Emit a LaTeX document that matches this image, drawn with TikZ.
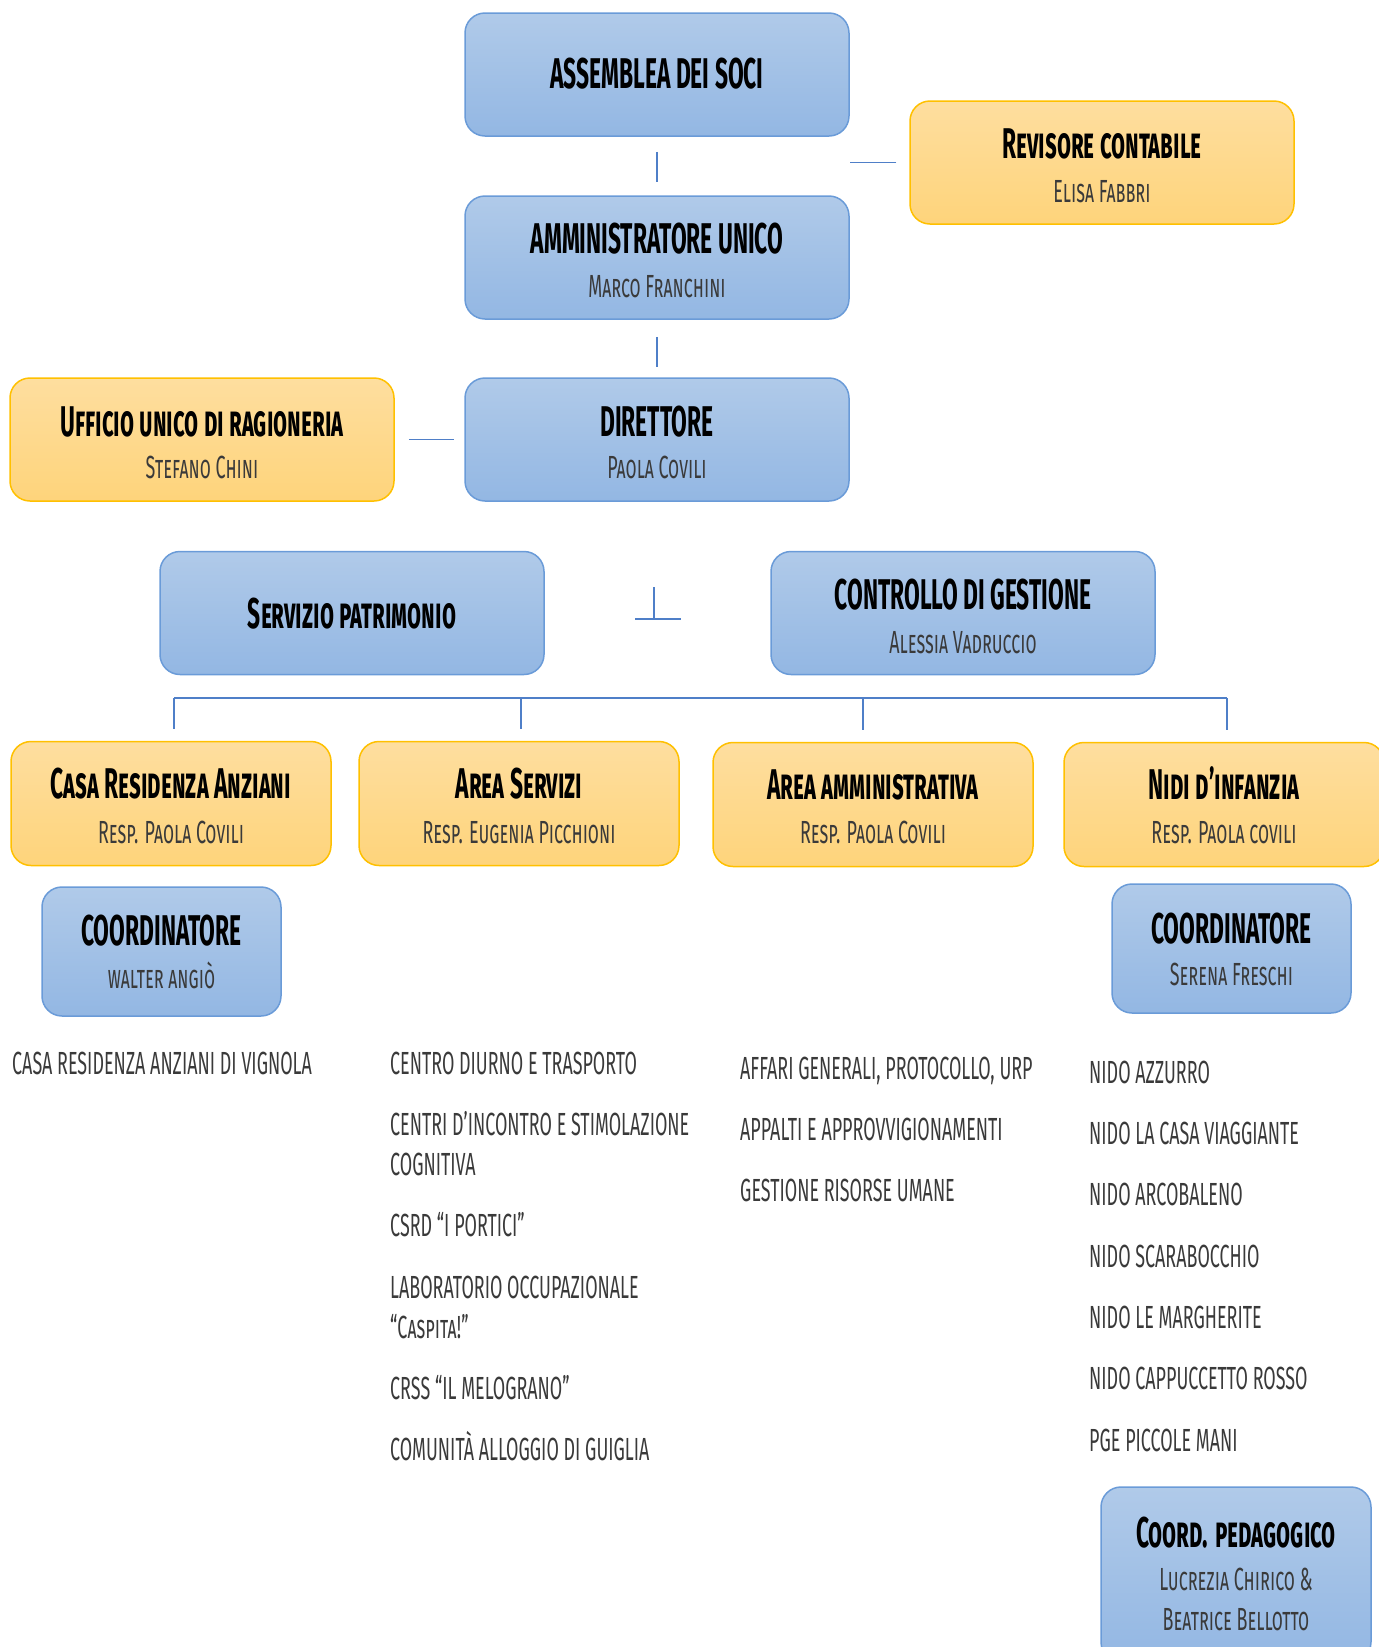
\documentclass[tikz,border=0pt]{standalone}
\usepackage{fontspec}
\newfontfamily\amfont[FakeStretch=0.53]{Fira Sans}
\newfontfamily\amsubfont[FakeStretch=0.56]{Fira Sans}
\definecolor{blueT}{HTML}{B0CAE9}
\definecolor{blueB}{HTML}{93B7E3}
\definecolor{blueBd}{HTML}{6A9BD8}
\definecolor{orT}{HTML}{FEDE9F}
\definecolor{orB}{HTML}{FED47B}
\definecolor{orBd}{HTML}{FFC000}
\definecolor{connblue}{HTML}{4F7FC8}
\definecolor{subgray}{HTML}{3A3A3A}
\tikzset{
  bluebox/.style={draw=blueBd, line width=1.5pt, rounded corners=20pt, top color=blueT, bottom color=blueB, inner sep=0pt, minimum width=384pt, minimum height=123pt},
  orbox/.style={draw=orBd, line width=1.5pt, rounded corners=20pt, top color=orT, bottom color=orB, inner sep=0pt, minimum width=384pt, minimum height=123pt},
  lowbox/.style={minimum width=320pt, minimum height=124pt},
  coordbox/.style={minimum width=239pt, minimum height=129pt},
  ttl/.style={font=\amfont\bfseries\scshape\fontsize{43}{43}\selectfont, text=black, inner sep=0pt, anchor=base},
  sub/.style={font=\amsubfont\scshape\fontsize{32}{32}\selectfont, text=subgray, inner sep=0pt, anchor=base},
  lst/.style={font=\amsubfont\scshape\fontsize{32}{32}\selectfont, text=subgray, inner sep=0pt, anchor=base west},
  conn/.style={draw=connblue, line width=1.5pt},
}
\begin{document}
\begin{tikzpicture}[x=1pt,y=-1pt]
\useasboundingbox (0,0) rectangle (1379,1647);
\clip (0,0) rectangle (1379,1647);
% boxes
\node[bluebox] (ass) at (657,74.5) {};
\node[bluebox] (amm) at (657,257.5) {};
\node[bluebox] (dir) at (657,439.5) {};
\node[orbox] (uff) at (202,439.5) {};
\node[orbox] (rev) at (1102,162.5) {};
\node[bluebox] (ser) at (352,613) {};
\node[bluebox] (con) at (963,613) {};
\node[orbox, lowbox] (casa) at (171,803.5) {};
\node[orbox, lowbox] (aser) at (519,803.5) {};
\node[orbox, lowbox] (aamm) at (873,804.5) {};
\node[orbox, lowbox] (nidi) at (1224,804.5) {};
\node[bluebox, coordbox] (coL) at (161.5,951.5) {};
\node[bluebox, coordbox] (coR) at (1231.5,948.5) {};
\node[bluebox, minimum width=270pt, minimum height=175pt] (ped) at (1236,1574.5) {};
% texts in boxes
\node[ttl] (assT) at (657,88) {ASSEMBLEA DEI SOCI};
\node[ttl] (ammT) at (657,253) {AMMINISTRATORE UNICO};
\node[sub] (ammS) at (657,297) {Marco Franchini};
\node[ttl] (revT) at (1102,158) {Revisore contabile};
\node[sub] (revS) at (1102,202) {Elisa Fabbri};
\node[ttl] (dirT) at (657,436) {DIRETTORE};
\node[sub] (dirS) at (657,478) {Paola Covili};
\node[ttl] (uffT) at (202,436) {Ufficio unico di ragioneria};
\node[sub] (uffS) at (202,478) {Stefano Chini};
\node[ttl] (serT) at (352,628) {Servizio patrimonio};
\node[ttl] (conT) at (963,609) {CONTROLLO DI GESTIONE};
\node[sub] (conS) at (963,653) {Alessia Vadruccio};
\node[ttl] (casaT) at (171,798) {Casa Residenza Anziani};
\node[sub] (casaS) at (171,843) {Resp. Paola Covili};
\node[ttl] (aserT) at (519,798) {Area Servizi};
\node[sub] (aserS) at (519,843) {Resp. Eugenia Picchioni};
\node[ttl] (aammT) at (873,799) {Area amministrativa};
\node[sub] (aammS) at (873,843) {Resp. Paola Covili};
\node[ttl] (nidiT) at (1224,799) {Nidi d’infanzia};
\node[sub] (nidiS) at (1224,843) {Resp. Paola covili};
\node[ttl] (coLT) at (161.5,945) {COORDINATORE};
\node[sub] (coLS) at (161.5,988) {walter angiò};
\node[ttl] (coRT) at (1231.5,943) {COORDINATORE};
\node[sub] (coRS) at (1231.5,985) {Serena Freschi};
\node[ttl] (pedT) at (1236,1547) {Coord. pedagogico};
\node[sub] (pedS1) at (1236,1590) {Lucrezia Chirico \&};
\node[sub] (pedS2) at (1236,1630) {Beatrice Bellotto};
% lists
\node[lst] (l1) at (12,1074) {CASA RESIDENZA ANZIANI DI VIGNOLA};
\node[lst] (s1) at (390,1074) {CENTRO DIURNO E TRASPORTO};
\node[lst] (s2) at (390,1135) {CENTRI D’INCONTRO E STIMOLAZIONE};
\node[lst] (s2b) at (390,1175) {COGNITIVA};
\node[lst] (s3) at (390,1236) {CSRD “I PORTICI”};
\node[lst] (s4) at (390,1298) {LABORATORIO OCCUPAZIONALE};
\node[lst] (s4b) at (390,1338) {“Caspita!”};
\node[lst] (s5) at (390,1399) {CRSS “IL MELOGRANO”};
\node[lst] (s6) at (390,1460) {COMUNITÀ ALLOGGIO DI GUIGLIA};
\node[lst] (a1) at (740,1079) {AFFARI GENERALI, PROTOCOLLO, URP};
\node[lst] (a2) at (740,1140) {APPALTI E APPROVVIGIONAMENTI};
\node[lst] (a3) at (740,1201) {GESTIONE RISORSE UMANE};
\node[lst] (n1) at (1089,1083) {NIDO AZZURRO};
\node[lst] (n2) at (1089,1144) {NIDO LA CASA VIAGGIANTE};
\node[lst] (n3) at (1089,1205) {NIDO ARCOBALENO};
\node[lst] (n4) at (1089,1267) {NIDO SCARABOCCHIO};
\node[lst] (n5) at (1089,1328) {NIDO LE MARGHERITE};
\node[lst] (n6) at (1089,1389) {NIDO CAPPUCCETTO ROSSO};
\node[lst] (n7) at (1089,1451) {PGE PICCOLE MANI};
% connectors
\draw[conn, shorten <=15pt, shorten >=13pt] (ass.south) -- (amm.north);
\draw[conn, shorten <=13pt] (rev.west) -- (rev.west -| ass.east);
\draw[conn, shorten <=17pt, shorten >=10pt] (amm.south) -- (dir.north);
\draw[conn, shorten <=14pt, shorten >=10pt] (uff.east) -- (dir.west);
\coordinate (jT) at (654,587);
\coordinate (jB) at (654,619);
\coordinate (jL) at (635,619);
\coordinate (jR) at (681,619);
\draw[conn] (jT) -- (jB);
\draw[conn] (jL) -- (jR);
\coordinate (b1) at (174,698);
\coordinate (b2) at (521,698);
\coordinate (b3) at (863,698);
\coordinate (b4) at (1227,698);
\draw[conn, line width=2pt] (b1) -- (b4);
\draw[conn, shorten >=11.5pt] (b1) -- (b1 |- casa.north);
\draw[conn, shorten >=11.5pt] (b2) -- (b2 |- aser.north);
\draw[conn, shorten >=12pt] (b3) -- (b3 |- aamm.north);
\draw[conn, shorten >=12pt] (b4) -- (b4 |- nidi.north);
\end{tikzpicture}
\end{document}
